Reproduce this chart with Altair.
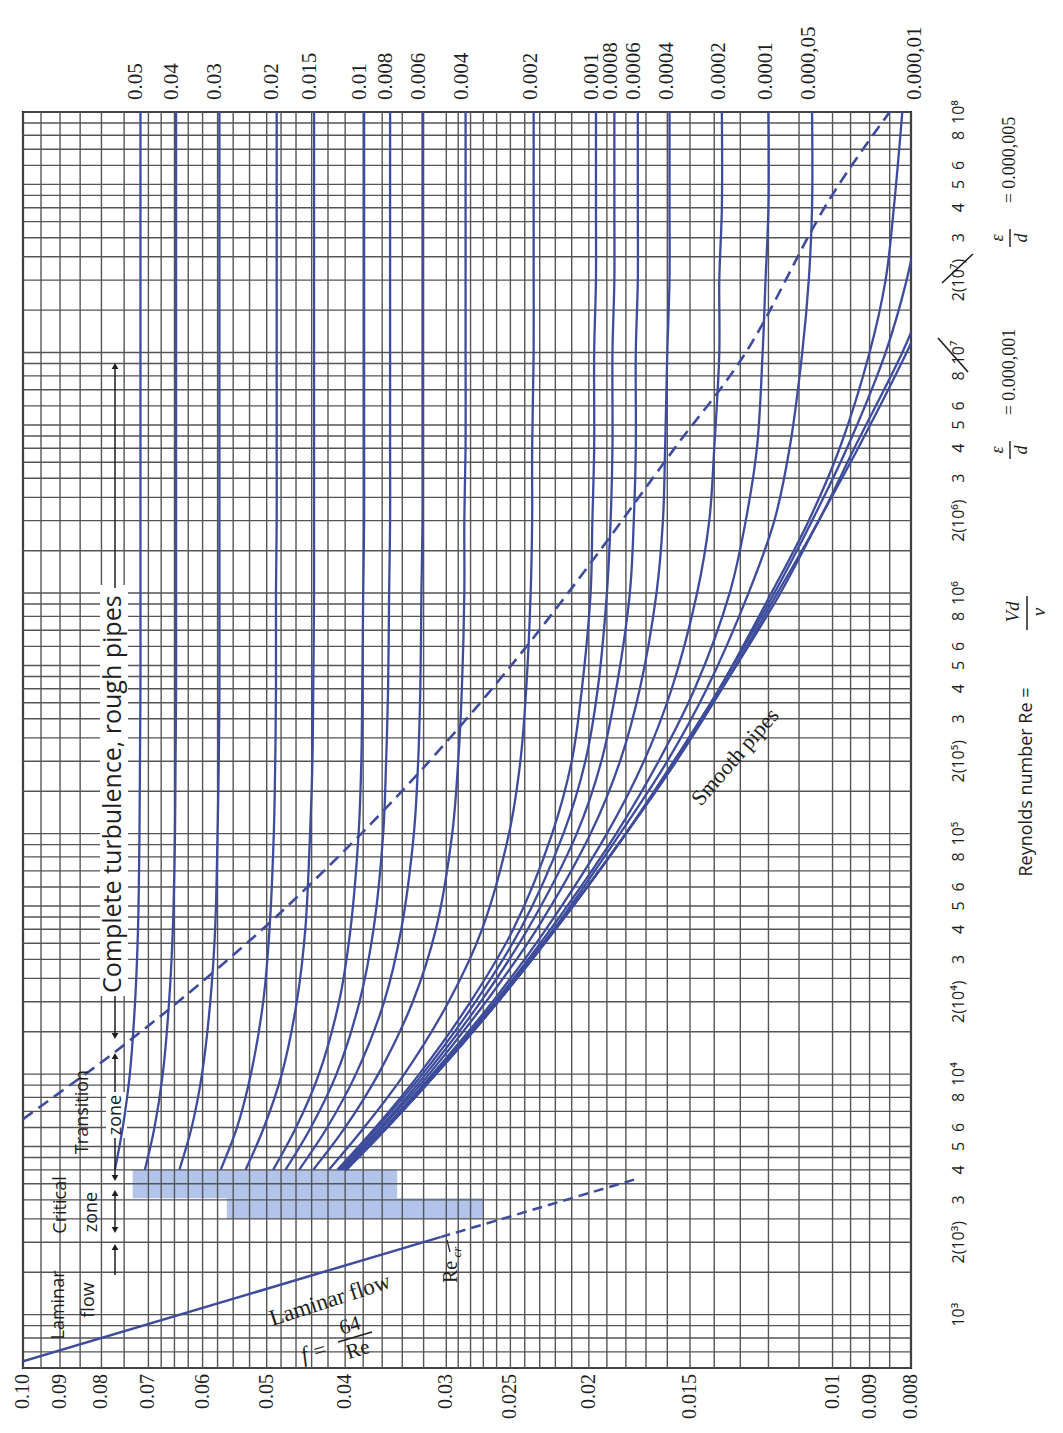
import altair as alt
import pandas as pd

# ---------------- layout ----------------
W, H = 888, 1256
PAD_L, PAD_T, PAD_R, PAD_B = 15, 104, 140, 53
OX, OY = 8 + PAD_L, 8 + PAD_T          # page position of the plot origin

SERIF = "Liberation Serif"
SANS = "Open Sans"
BLUE = "#3d4c9c"
GRID = "#555555"
INK = "#1e1e1e"
BAND = "#9fb5e4"

XS = alt.Scale(type="log", domain=[0.008, 0.1], reverse=True, nice=False)
YS = alt.Scale(type="log", domain=[600, 1e8], nice=False)

# ---------------- grid & ticks ----------------
F_GRID = [0.1, 0.095, 0.09, 0.085, 0.08, 0.075, 0.07, 0.0675, 0.065, 0.0625, 0.06,
          0.0575, 0.055, 0.0525, 0.05, 0.048, 0.046, 0.044, 0.042, 0.04, 0.038, 0.036,
          0.034, 0.032, 0.03, 0.029, 0.028, 0.027, 0.026, 0.025, 0.024, 0.023, 0.022,
          0.021, 0.02, 0.019, 0.018, 0.017, 0.016, 0.015, 0.014, 0.013, 0.012, 0.011,
          0.01, 0.0095, 0.009, 0.0085, 0.008]
RE_GRID_MANTISSA = [1, 1.5, 2, 2.5, 3, 3.5, 4, 4.5, 5, 6, 7, 8, 9]
RE_GRID_DECADES = [1e3, 1e4, 1e5, 1e6, 1e7]
RE_GRID_LOW = [600, 700, 800, 900]
RE_GRID = RE_GRID_LOW + [m * d for d in RE_GRID_DECADES for m in RE_GRID_MANTISSA] + [1e8]

F_TICKS = [0.1, 0.09, 0.08, 0.07, 0.06, 0.05, 0.04, 0.03, 0.025, 0.02, 0.015, 0.01, 0.009, 0.008]
F_TICK_LABELS = ["0.10", "0.09", "0.08", "0.07", "0.06", "0.05", "0.04", "0.03", "0.025",
                 "0.02", "0.015", "0.01", "0.009", "0.008"]

RE_TICKS = [1000, 2000, 3000, 4000, 5000, 6000, 8000,
            10000, 20000, 30000, 40000, 50000, 60000, 80000,
            100000, 200000, 300000, 400000, 500000, 600000, 800000,
            1000000, 2000000, 3000000, 4000000, 5000000, 6000000, 8000000,
            10000000, 20000000, 30000000, 40000000, 50000000, 60000000, 80000000,
            100000000]
RE_TICK_LABELS = ["10³", "2(10³)", "3", "4", "5", "6", "8",
                  "10⁴", "2(10⁴)", "3", "4", "5", "6", "8",
                  "10⁵", "2(10⁵)", "3", "4", "5", "6", "8",
                  "10⁶", "2(10⁶)", "3", "4", "5", "6", "8",
                  "10⁷", "2(10⁷)", "3", "4", "5", "6", "8",
                  "10⁸"]

# ---------------- curves ----------------
RE_PTS = [4000, 6000, 1e4, 2e4, 4e4, 1e5, 2e5, 4e5, 1e6, 2e6, 4e6, 1e7, 2e7, 4e7, 1e8]
F_0_05 = [0.0770, 0.0753, 0.0738, 0.0727, 0.0721, 0.0718, 0.0717, 0.0716, 0.0716, 0.0716, 0.0716, 0.0716, 0.0716, 0.0716, 0.0716]
F_0_04 = [0.0707, 0.0688, 0.0672, 0.0660, 0.0653, 0.0649, 0.0648, 0.0647, 0.0647, 0.0647, 0.0647, 0.0647, 0.0647, 0.0647, 0.0647]
F_0_03 = [0.0641, 0.0619, 0.0601, 0.0587, 0.0579, 0.0575, 0.0573, 0.0572, 0.0572, 0.0572, 0.0572, 0.0572, 0.0572, 0.0572, 0.0572]
F_0_02 = [0.0570, 0.0544, 0.0523, 0.0505, 0.0496, 0.0490, 0.0488, 0.0487, 0.0487, 0.0486, 0.0486, 0.0486, 0.0486, 0.0486, 0.0486]
F_0_015 = [0.0531, 0.0504, 0.0479, 0.0459, 0.0448, 0.0442, 0.0439, 0.0438, 0.0437, 0.0437, 0.0437, 0.0437, 0.0437, 0.0437, 0.0437]
F_0_01 = [0.0491, 0.0460, 0.0431, 0.0407, 0.0394, 0.0385, 0.0382, 0.0381, 0.0380, 0.0379, 0.0379, 0.0379, 0.0379, 0.0379, 0.0379]
F_0_008 = [0.0474, 0.0441, 0.0410, 0.0384, 0.0369, 0.0359, 0.0356, 0.0354, 0.0353, 0.0352, 0.0352, 0.0352, 0.0352, 0.0352, 0.0352]
F_0_006 = [0.0456, 0.0421, 0.0388, 0.0358, 0.0341, 0.0329, 0.0325, 0.0323, 0.0322, 0.0321, 0.0321, 0.0321, 0.0321, 0.0321, 0.0321]
F_0_004 = [0.0438, 0.0400, 0.0364, 0.0330, 0.0309, 0.0295, 0.0290, 0.0287, 0.0285, 0.0285, 0.0284, 0.0284, 0.0284, 0.0284, 0.0284]
F_0_002 = [0.0419, 0.0379, 0.0338, 0.0298, 0.0271, 0.0251, 0.0243, 0.0239, 0.0236, 0.0235, 0.0235, 0.0234, 0.0234, 0.0234, 0.0234]
F_0_001 = [0.0409, 0.0367, 0.0324, 0.0280, 0.0248, 0.0222, 0.0210, 0.0204, 0.0199, 0.0198, 0.0197, 0.0197, 0.0196, 0.0196, 0.0196]
F_0_0008 = [0.0407, 0.0365, 0.0321, 0.0276, 0.0243, 0.0215, 0.0202, 0.0195, 0.0190, 0.0188, 0.0187, 0.0187, 0.0186, 0.0186, 0.0186]
F_0_0006 = [0.0405, 0.0362, 0.0318, 0.0272, 0.0238, 0.0207, 0.0193, 0.0185, 0.0178, 0.0176, 0.0175, 0.0175, 0.0174, 0.0174, 0.0174]
F_0_0004 = [0.0403, 0.0360, 0.0315, 0.0268, 0.0232, 0.0199, 0.0183, 0.0173, 0.0165, 0.0162, 0.0161, 0.0160, 0.0159, 0.0159, 0.0159]
F_0_0002 = [0.0401, 0.0357, 0.0312, 0.0263, 0.0226, 0.0190, 0.0171, 0.0158, 0.0147, 0.0142, 0.0140, 0.0138, 0.0138, 0.0137, 0.0137]
F_0_0001 = [0.0400, 0.0356, 0.0310, 0.0261, 0.0223, 0.0185, 0.0164, 0.0148, 0.0134, 0.0128, 0.0124, 0.0122, 0.0121, 0.0120, 0.0120]
F_0_00005 = [0.0400, 0.0356, 0.0310, 0.0260, 0.0221, 0.0183, 0.0160, 0.0143, 0.0127, 0.0118, 0.0113, 0.0109, 0.0107, 0.0106, 0.0106]
F_0_00001 = [0.0399, 0.0355, 0.0309, 0.0259, 0.0220, 0.0180, 0.0157, 0.0138, 0.0119, 0.0107, 0.0098, 0.0090, 0.0086, 0.0084, 0.0082]

RE_5E_6 = [4000, 6000, 1e4, 2e4, 4e4, 1e5, 2e5, 4e5, 1e6, 2e6, 4e6, 1e7, 2e7, 3e7]
F_5E_6 = [0.0399, 0.0355, 0.0309, 0.0259, 0.0220, 0.0180, 0.0157, 0.0138, 0.0118, 0.0106, 0.0096, 0.0086, 0.0081, 0.0079]
RE_1E_6 = [4000, 6000, 1e4, 2e4, 4e4, 1e5, 2e5, 4e5, 1e6, 2e6, 4e6, 1e7, 1.5e7]
F_1E_6 = [0.0399, 0.0355, 0.0309, 0.0259, 0.0220, 0.0180, 0.0156, 0.0137, 0.0117, 0.0104, 0.0094, 0.0082, 0.0078]
RE_SMOOTH = [4000, 6000, 1e4, 2e4, 4e4, 1e5, 2e5, 4e5, 1e6, 2e6, 4e6, 1e7, 1.2e7]
F_SMOOTH = [0.0399, 0.0355, 0.0309, 0.0259, 0.0220, 0.0180, 0.0156, 0.0137, 0.0116, 0.0104, 0.0093, 0.0081, 0.0079]

CURVES = [
    ("0.05", RE_PTS, F_0_05), ("0.04", RE_PTS, F_0_04), ("0.03", RE_PTS, F_0_03),
    ("0.02", RE_PTS, F_0_02), ("0.015", RE_PTS, F_0_015), ("0.01", RE_PTS, F_0_01),
    ("0.008", RE_PTS, F_0_008), ("0.006", RE_PTS, F_0_006), ("0.004", RE_PTS, F_0_004),
    ("0.002", RE_PTS, F_0_002), ("0.001", RE_PTS, F_0_001), ("0.0008", RE_PTS, F_0_0008),
    ("0.0006", RE_PTS, F_0_0006), ("0.0004", RE_PTS, F_0_0004), ("0.0002", RE_PTS, F_0_0002),
    ("0.0001", RE_PTS, F_0_0001), ("0.000,05", RE_PTS, F_0_00005), ("0.000,01", RE_PTS, F_0_00001),
    ("0.000,005", RE_5E_6, F_5E_6), ("0.000,001", RE_1E_6, F_1E_6), ("smooth", RE_SMOOTH, F_SMOOTH),
]

TOP_LABELS = ["0.05", "0.04", "0.03", "0.02", "0.015", "0.01", "0.008", "0.006", "0.004",
              "0.002", "0.001", "0.0008", "0.0006", "0.0004", "0.0002", "0.0001", "0.000,05", "0.000,01"]
TOP_LABEL_F = [0.0725, 0.0655, 0.058, 0.0492, 0.0442, 0.0383, 0.0356, 0.0324, 0.0287,
               0.0236, 0.0198, 0.0188, 0.0176, 0.0160, 0.0138, 0.0121, 0.0107, 0.0079]

# laminar line f = 64/Re
LAM_RE = [640, 2100]
LAM_F = [0.1, 0.0305]
LAM_DASH_RE = [2100, 3700]
LAM_DASH_F = [0.0305, 0.0173]

# complete-turbulence boundary (dashed)
DASH_F = [0.1, 0.09, 0.08, 0.0716, 0.0647, 0.0572, 0.0486, 0.0437, 0.0379, 0.0321, 0.0284,
          0.0234, 0.0196, 0.0157, 0.0128, 0.0101, 0.0085]
DASH_RE = [6500, 8400, 11200, 14950, 19660, 27880, 45340, 63790, 102700, 186000, 296600,
           653400, 1427000, 3966000, 10000000, 43000000, 100000000]

# critical-zone shading
BAND_F1 = [0.0732, 0.0560]
BAND_F2 = [0.0345, 0.0270]
BAND_RE1 = [3050, 2500]
BAND_RE2 = [4000, 3050]

# ---------------- data frames ----------------
curve_rows = []
for name, res, fs in CURVES:
    for i, (r, f) in enumerate(zip(res, fs)):
        curve_rows.append({"eps": name, "i": i, "re": r, "f": f})
df_curves = pd.DataFrame(curve_rows)

df_fgrid = pd.DataFrame({"f": F_GRID})
df_regrid = pd.DataFrame({"re": RE_GRID})
df_fticks = pd.DataFrame({"f": F_TICKS, "label": F_TICK_LABELS})
df_reticks = pd.DataFrame({"re": RE_TICKS, "label": RE_TICK_LABELS})
df_top = pd.DataFrame({"f": TOP_LABEL_F, "label": TOP_LABELS})
df_lam = pd.DataFrame({"re": LAM_RE, "f": LAM_F, "i": [0, 1]})
df_lamd = pd.DataFrame({"re": LAM_DASH_RE, "f": LAM_DASH_F, "i": [0, 1]})
df_dash = pd.DataFrame({"re": DASH_RE, "f": DASH_F, "i": list(range(len(DASH_F)))})
df_band = pd.DataFrame({"f1": BAND_F1, "f2": BAND_F2, "re1": BAND_RE1, "re2": BAND_RE2})
ONE = pd.DataFrame({"a": [0]})

FX = alt.X("f:Q", scale=XS, axis=None)
RY = alt.Y("re:Q", scale=YS, axis=None)


def P(xp, yp):
    return xp - OX, yp - OY


def txt(text, xp, yp, size, angle=270, font=SANS, align="center", baseline="middle",
        weight="normal", style="normal", color=INK):
    x, y = P(xp, yp)
    return alt.Chart(ONE).mark_text(text=text, angle=angle, font=font, fontSize=size,
                                    align=align, baseline=baseline, fontWeight=weight,
                                    fontStyle=style, color=color).encode(
        x=alt.value(x), y=alt.value(y))


def seg(x1, y1, x2, y2, color=INK, width=1.5):
    a, b = P(x1, y1)
    c, d = P(x2, y2)
    return alt.Chart(ONE).mark_rule(color=color, strokeWidth=width).encode(
        x=alt.value(a), y=alt.value(b), x2=alt.value(c), y2=alt.value(d))


def head(xp, yp, up=True, size=45):
    x, y = P(xp, yp)
    return alt.Chart(ONE).mark_point(shape="triangle-up" if up else "triangle-down",
                                     filled=True, size=size, color=INK, opacity=1).encode(
        x=alt.value(x), y=alt.value(y))


def box(x1, y1, x2, y2):
    a, b = P(x1, y1)
    c, d = P(x2, y2)
    return alt.Chart(ONE).mark_rect(color="white").encode(
        x=alt.value(a), y=alt.value(b), x2=alt.value(c), y2=alt.value(d))


# ---------------- layers ----------------
band = alt.Chart(df_band).mark_rect(color=BAND, opacity=0.8).encode(
    x=alt.X("f1:Q", scale=XS, axis=None), x2="f2:Q",
    y=alt.Y("re1:Q", scale=YS, axis=None), y2="re2:Q")

vgrid = alt.Chart(df_fgrid).mark_rule(color=GRID, strokeWidth=1.4).encode(
    x=FX, y=alt.value(0), y2=alt.value(H))

hgrid = alt.Chart(df_regrid).mark_rule(color=GRID, strokeWidth=1.4).encode(
    y=RY, x=alt.value(0), x2=alt.value(W))

boxes = [box(100, 585, 128, 996), box(106, 1092, 127, 1138)]

f_labels = alt.Chart(df_fticks).mark_text(angle=270, align="right", baseline="middle",
                                          font=SERIF, fontSize=20, color=INK).encode(
    x=FX, y=alt.value(H + 6), text="label:N")

re_labels = alt.Chart(df_reticks).mark_text(angle=270, align="center", baseline="top",
                                            font=SANS, fontSize=16, color=INK).encode(
    y=RY, x=alt.value(W + 40), text="label:N")

curves = alt.Chart(df_curves).mark_line(interpolate="catmull-rom", clip=True, color=BLUE,
                                         strokeWidth=2.3).encode(
    x=FX, y=RY, detail="eps:N", order="i:Q")

lam = alt.Chart(df_lam).mark_line(color=BLUE, strokeWidth=2.5, clip=True).encode(
    x=FX, y=RY, order="i:Q")
lamd = alt.Chart(df_lamd).mark_line(color=BLUE, strokeWidth=2.5, strokeDash=[10, 6], clip=True).encode(
    x=FX, y=RY, order="i:Q")
dash = alt.Chart(df_dash).mark_line(color=BLUE, strokeWidth=2.6, strokeDash=[12, 7],
                                    interpolate="monotone", clip=True).encode(
    x=FX, y=RY, order="i:Q")

top_labels = alt.Chart(df_top).mark_text(angle=270, align="left", baseline="middle",
                                         font=SERIF, fontSize=21, color=INK).encode(
    x=FX, y=alt.value(-12), text="label:N")

annotations = [
    # zone labels
    txt("Complete turbulence, rough pipes", 113, 993, 25, align="left"),
    seg(115, 1036, 115, 996), head(115, 1036, up=False),
    seg(115, 588, 115, 368), head(115, 366, up=True),
    txt("Laminar", 59, 1305, 18), txt("flow", 89, 1300, 18),
    txt("Critical", 61, 1205, 18), txt("zone", 92, 1212, 18),
    txt("Transition", 83, 1112, 18), txt("zone", 116, 1115, 18),
    seg(115, 1056, 115, 1092), head(115, 1056, up=True),
    seg(115, 1138, 115, 1178), head(115, 1178, up=False),
    seg(115, 1193, 115, 1230), head(115, 1193, up=True), head(115, 1230, up=False),
    seg(115, 1247, 115, 1275), head(115, 1247, up=True),
    # laminar annotations
    txt("Laminar flow", 330, 1300, 23, angle=342, font=SERIF),
    txt("f =", 314, 1352, 22, angle=343, font=SERIF, style="italic"),
    txt("64", 350, 1326, 21, angle=343, font=SERIF),
    seg(338, 1342, 372, 1332, width=1.6),
    txt("Re", 358, 1350, 21, angle=343, font=SERIF),
    seg(447, 1240, 450, 1252, width=1.2),
    txt("Re", 451, 1272, 20, font=SERIF),
    txt("cr", 457, 1252, 13, font=SERIF, style="italic"),
    # smooth pipes
    txt("Smooth pipes", 735, 757, 22, angle=311, font=SERIF),
    # right side titles
    txt("Reynolds number Re =", 1027, 782, 18, font=SANS),
    txt("Vd", 1013, 612, 19, font=SERIF, style="italic"),
    seg(1027, 596, 1027, 630, width=1.5),
    txt("ν", 1039, 612, 19, font=SERIF, style="italic"),
    # eps/d annotations
    txt("= 0.000,005", 1010, 160, 18, font=SERIF),
    txt("ε", 998, 238, 18, font=SERIF, style="italic"),
    seg(1010, 229, 1010, 247, width=1.4),
    txt("d", 1022, 238, 18, font=SERIF, style="italic"),
    seg(942, 283, 973, 254, width=1.6),
    txt("= 0.000,001", 1010, 372, 18, font=SERIF),
    txt("ε", 998, 450, 18, font=SERIF, style="italic"),
    seg(1010, 441, 1010, 459, width=1.4),
    txt("d", 1022, 450, 18, font=SERIF, style="italic"),
    seg(938, 338, 968, 372, width=1.6),
]

chart = alt.layer(band, vgrid, hgrid, *boxes, curves, lam, lamd, dash, top_labels, f_labels,
                  re_labels, *annotations).properties(
    width=W, height=H,
    padding={"left": PAD_L, "top": PAD_T, "right": PAD_R, "bottom": PAD_B},
    autosize=alt.AutoSizeParams(type="none"),
    background="white",
).configure_view(stroke="#111111", strokeWidth=2.2)

chart.save("out.html", embed_options={"renderer": "svg", "actions": False})
